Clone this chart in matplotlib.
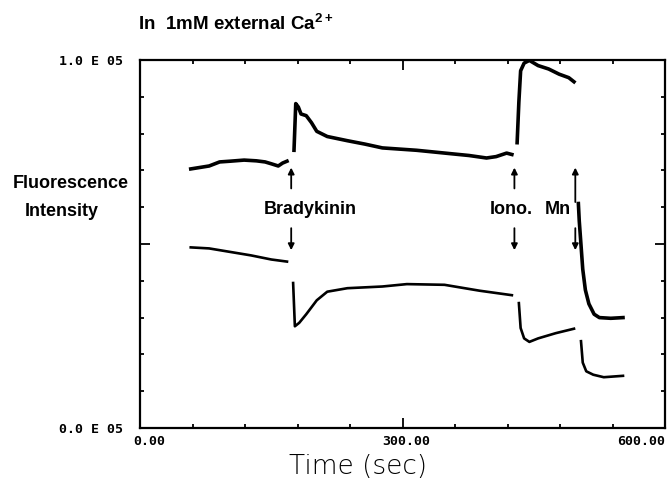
import matplotlib
matplotlib.use("Agg")
import matplotlib.pyplot as plt
import matplotlib.transforms as mtrans
from matplotlib.ticker import MultipleLocator

plt.rcParams['mathtext.fontset'] = 'custom'
plt.rcParams['mathtext.rm'] = 'Liberation Sans:bold'
plt.rcParams['mathtext.bf'] = 'Liberation Sans:bold'

# upper trace (time in sec, fluorescence)
up_pre_x = [58, 79, 91, 103, 119, 133, 143, 150, 158, 163, 168]
up_pre_y = [70400, 71200, 72300, 72500, 72800, 72600, 72300, 71800, 71200, 72000, 72500]
up_brady_x = [176, 178, 181, 184, 190, 196, 202, 214, 237, 257, 277, 316, 356, 376, 396, 407, 419, 425]
up_brady_y = [75470, 88150, 87200, 85330, 84870, 82960, 80620, 79210, 78070, 77150, 76110, 75470,
              74520, 74050, 73370, 73750, 74700, 74320]
up_iono_x = [431, 433, 435, 439, 445, 455, 467, 479, 490, 496]
up_iono_y = [77530, 88620, 97070, 99160, 99890, 98480, 97560, 96150, 95200, 94080]
up_mn_x = [501, 502, 504, 506, 509, 513, 519, 525, 538, 552]
up_mn_y = [61000, 56300, 49730, 43150, 37500, 33750, 30920, 30000, 29810, 30000]

# lower trace
lo_pre_x = [58, 79, 103, 127, 150, 168]
lo_pre_y = [49080, 48800, 47850, 46900, 45790, 45220]
lo_brady_x = [175, 177, 182, 190, 202, 214, 237, 277, 305, 348, 388, 425]
lo_brady_y = [39400, 27640, 28590, 30920, 34700, 37040, 37990, 38450, 39100, 38910, 37310, 36090]
lo_iono_x = [433, 435, 439, 445, 455, 475, 496]
lo_iono_y = [33940, 27170, 24350, 23400, 24350, 25760, 26980]
lo_mn_x = [504, 506, 510, 518, 530, 552]
lo_mn_y = [23590, 17770, 15410, 14480, 13800, 14180]

# additions: time, label
events = [172.8, 427.9, 497.5]
event_labels = ["Bradykinin", "Iono.", "Mn"]

fig = plt.figure(figsize=(6.7, 4.78), dpi=100)
ax = fig.add_axes([140/670, 50/478, 525/670, 368/478])

for xs, ys in [(up_pre_x, up_pre_y), (up_brady_x, up_brady_y), (up_iono_x, up_iono_y), (up_mn_x, up_mn_y)]:
    ax.plot(xs, ys, color='black', lw=2.6, solid_joinstyle='round')
for xs, ys in [(lo_pre_x, lo_pre_y), (lo_brady_x, lo_brady_y), (lo_iono_x, lo_iono_y), (lo_mn_x, lo_mn_y)]:
    ax.plot(xs, ys, color='black', lw=1.9, solid_joinstyle='round')

# arrows
arrow = dict(arrowstyle='-|>', color='black', lw=1.3, mutation_scale=9, shrinkA=0, shrinkB=0)
for i, t in enumerate(events):
    up_tail = 61400 if i == 2 else 65100
    ax.annotate("", xy=(t, 70760), xytext=(t, up_tail), arrowprops=arrow)
    ax.annotate("", xy=(t, 48320), xytext=(t, 54300), arrowprops=arrow)

lab = dict(fontsize=13, fontweight='bold', family='Liberation Sans', va='center')
ax.text(194, 59500, event_labels[0], ha='center', **lab)
ax.text(400, 59500, event_labels[1], ha='left', **lab)
ax.text(463, 59500, event_labels[2], ha='left', **lab)

ax.set_xlim(0, 600)
ax.set_ylim(0, 100000)
ax.set_xticks([0, 300, 600])
ax.set_xticklabels(["0.00", "300.00", "600.00"])
ax.set_yticks([0, 50000, 100000])
ax.set_yticklabels(["0.0 E 05", "", "1.0 E 05"])
ax.xaxis.set_minor_locator(MultipleLocator(60))
ax.yaxis.set_minor_locator(MultipleLocator(10000))
ax.tick_params(which='both', direction='in', top=True, right=True, width=1.3)
ax.tick_params(which='major', length=7)
ax.tick_params(which='minor', length=3)
ax.tick_params(axis='y', which='major', pad=12)
ax.tick_params(axis='x', which='major', pad=5)
for lbl in ax.get_xticklabels() + ax.get_yticklabels():
    lbl.set_family('DejaVu Sans Mono')
    lbl.set_fontweight('bold')
    lbl.set_fontsize(9.5)

# nudge x tick labels like the plotter output
xl = ax.get_xticklabels()
shifts = [9, 4, 0]
for lbl, dx in zip(xl, shifts):
    lbl.set_transform(lbl.get_transform() + mtrans.ScaledTranslation(dx/100, 0, fig.dpi_scale_trans))
xl[2].set_horizontalalignment('right')

for s in ax.spines.values():
    s.set_linewidth(1.6)

fig.text(138/670, 1 - 24/478, r"In  1mM external Ca$^{2+}$", fontsize=13.5, fontweight='bold',
         family='Liberation Sans', ha='left', va='center')
fig.text(71/670, 1 - 183/478, "Fluorescence", fontsize=13, fontweight='bold',
         family='Liberation Sans', ha='center', va='center')
fig.text(62/670, 1 - 212/478, "Intensity", fontsize=13, fontweight='bold',
         family='Liberation Sans', ha='center', va='center')
fig.text(358/670, 1 - 466/478, "Time (sec)", fontsize=19, fontweight=200,
         family='DejaVu Sans', ha='center', va='center')

fig.savefig("out.png", dpi=100)
